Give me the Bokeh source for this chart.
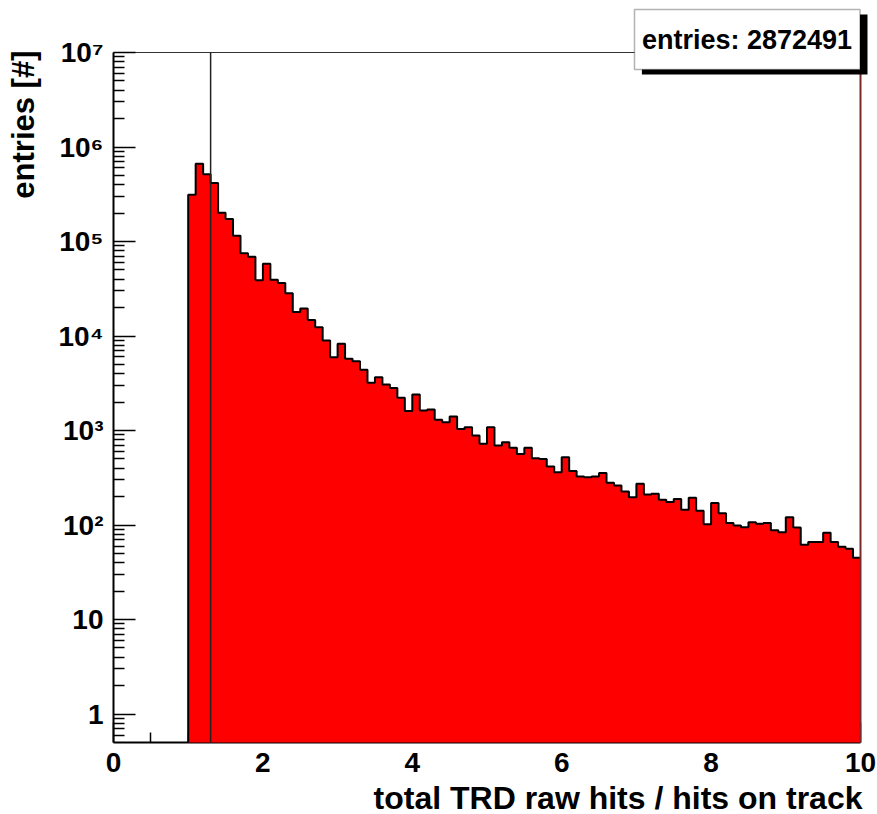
import math
from bokeh.plotting import figure
from bokeh.models import (Range1d, FixedTicker, CustomJSTickFormatter,
                          BoxAnnotation, Label)
from bokeh.embed import file_html
from bokeh.resources import INLINE

# ---------------- data ----------------
x_min, x_max = 0.0, 10.0
y_min, y_max = 0.5, 1e7
bin_width = 0.1
first_edge = 1.0          # first filled bin starts here (bins below are empty)
counts = [
    311900, 663700, 514000, 416000, 202000, 172600, 114800, 75000, 68900, 38900,   # 1.0-2.0
    58100, 39400, 36500, 28400, 18000, 19500, 14800, 12400, 8950, 5970,            # 2.0-3.0
    8260, 5740, 5410, 4390, 3200, 3660, 3070, 2810, 2220, 1610,                    # 3.0-4.0
    2400, 1630, 1670, 1300, 1220, 1410, 1040, 1080, 885, 723,                      # 4.0-5.0
    1080, 693, 752, 656, 566, 656, 509, 501, 416, 362,                             # 5.0-6.0
    522, 372, 326, 321, 326, 356, 280, 262, 226, 197,                              # 6.0-7.0
    273, 210, 214, 185, 175, 189, 145, 194, 142, 102,                              # 7.0-8.0
    171, 133, 105, 99, 95, 107, 103, 105, 88, 84,                                  # 8.0-9.0
    121, 94, 62, 66, 66, 83, 66, 59, 56, 45,                                       # 9.0-10.0
]
n_entries = 2872491
cut_value = 1.3
x_ticks = [0, 2, 4, 6, 8, 10]
x_minor = [0.5, 1.0, 1.5, 2.5, 3.0, 3.5, 4.5, 5.0, 5.5, 6.5, 7.0, 7.5, 8.5, 9.0, 9.5]
y_ticks = [1, 10, 100, 1000, 1e4, 1e5, 1e6, 1e7]
x_title = "total TRD raw hits / hits on track"
y_title = "entries [#]"

# ---------------- layout (canvas pixels) ----------------
FIG_W, FIG_H = 877, 814
FRAME_L, FRAME_R, FRAME_T, FRAME_B = 113, 860, 52, 742   # axis box in canvas pixels
LOG_LO, LOG_HI = math.log10(y_min), math.log10(y_max)


def dx(px):
    return x_min + (px - FRAME_L) / (FRAME_R - FRAME_L) * (x_max - x_min)


def dy(py):
    return 10 ** (LOG_HI - (py - FRAME_T) / (FRAME_B - FRAME_T) * (LOG_HI - LOG_LO))


# histogram outline derived from the bins
lefts = [round(first_edge + bin_width * i, 4) for i in range(len(counts))]
rights = [round(l + bin_width, 4) for l in lefts]
ox, oy = [lefts[0]], [y_min]
for l, r, c in zip(lefts, rights, counts):
    ox += [l, r]
    oy += [c, c]
fill_x = ox + [rights[-1]]
fill_y = oy + [y_min]

y_minor = [m * 10 ** e for e in range(-1, 7) for m in range(2, 10)
           if y_min < m * 10 ** e < y_max]

FONT = "Liberation Sans"

# the plotting frame spans the whole canvas; the axes are pinned at the box edges
p = figure(width=FIG_W, height=FIG_H,
           x_range=Range1d(dx(0), dx(FIG_W)), y_range=Range1d(dy(FIG_H), dy(0)),
           y_axis_type="log", output_backend="svg", toolbar_location=None,
           min_border=0)
p.xgrid.visible = False
p.ygrid.visible = False
p.background_fill_color = "white"
p.border_fill_color = "white"
p.outline_line_color = None

# top frame edge
p.line([x_min, x_max], [y_max, y_max], line_color="#333333", line_width=1)

# histogram
p.patch(fill_x, fill_y, fill_color="#ff0000", line_color=None, level="annotation")
p.line(ox, oy, line_color="black", line_width=2, level="annotation")

# axes
xa = p.xaxis[0]
xa.fixed_location = y_min
xa.bounds = (x_min, x_max)
xa.ticker = FixedTicker(ticks=x_ticks, minor_ticks=x_minor)
xa.major_tick_in, xa.major_tick_out = 20, 0
xa.minor_tick_in, xa.minor_tick_out = 10, 0
xa.major_tick_line_width = 1.5
xa.minor_tick_line_width = 1.5
xa.axis_line_width = 2
xa.major_label_text_font = FONT
xa.major_label_text_font_style = "bold"
xa.major_label_text_font_size = "28px"
xa.major_label_text_color = "black"
xa.major_label_standoff = 10

ya = p.yaxis[0]
ya.fixed_location = x_min
ya.bounds = (y_min, y_max)
ya.ticker = FixedTicker(ticks=y_ticks, minor_ticks=y_minor)
ya.formatter = CustomJSTickFormatter(code="""
const e = Math.round(Math.log10(tick));
const sup = ['\u2070','\u00b9','\u00b2','\u00b3','\u2074','\u2075','\u2076','\u2077','\u2078','\u2079'];
if (e == 0) return '1';
if (e == 1) return '10';
return '10' + sup[e];
""")
ya.major_tick_in, ya.major_tick_out = 22, 0
ya.minor_tick_in, ya.minor_tick_out = 11, 0
ya.major_tick_line_width = 1.5
ya.minor_tick_line_width = 1.5
ya.axis_line_width = 2
ya.major_label_text_font = FONT
ya.major_label_text_font_style = "bold"
ya.major_label_text_font_size = "28px"
ya.major_label_text_color = "black"
ya.major_label_standoff = 10

# vertical markers
p.line([cut_value, cut_value], [y_min, y_max], line_color="#222222",
       line_width=1.5, level="overlay")
p.line([x_max, x_max], [y_min, y_max], line_color="#7a2a2a",
       line_width=2, level="overlay")

# stats box with shadow
p.add_layout(BoxAnnotation(left=dx(641.4), right=dx(867), top=dy(14), bottom=dy(74),
                           fill_color="black", fill_alpha=1, line_color=None,
                           level="overlay"))
p.add_layout(BoxAnnotation(left=dx(634), right=dx(859.5), top=dy(9), bottom=dy(69),
                           fill_color="white", fill_alpha=1, line_color="black",
                           line_width=1.5, level="overlay"))
p.add_layout(Label(x=dx(746.5), y=dy(39), text=f"entries: {n_entries}",
                   text_align="center", text_baseline="middle",
                   text_font=FONT, text_font_style="bold", text_font_size="27px",
                   text_color="black", level="overlay"))

# axis titles (ROOT style: aligned to the axis end)
p.add_layout(Label(x=dx(862), y=dy(797), text=x_title, text_align="right",
                   text_baseline="middle", text_font=FONT,
                   text_font_style="bold", text_font_size="32px",
                   text_color="black", level="overlay"))
p.add_layout(Label(x=dx(5), y=dy(50), text=y_title, angle=math.pi / 2,
                   text_align="right", text_baseline="top", text_font=FONT,
                   text_font_style="bold", text_font_size="31px",
                   text_color="black", level="overlay"))

open("out.html", "w").write(file_html(p, INLINE))
